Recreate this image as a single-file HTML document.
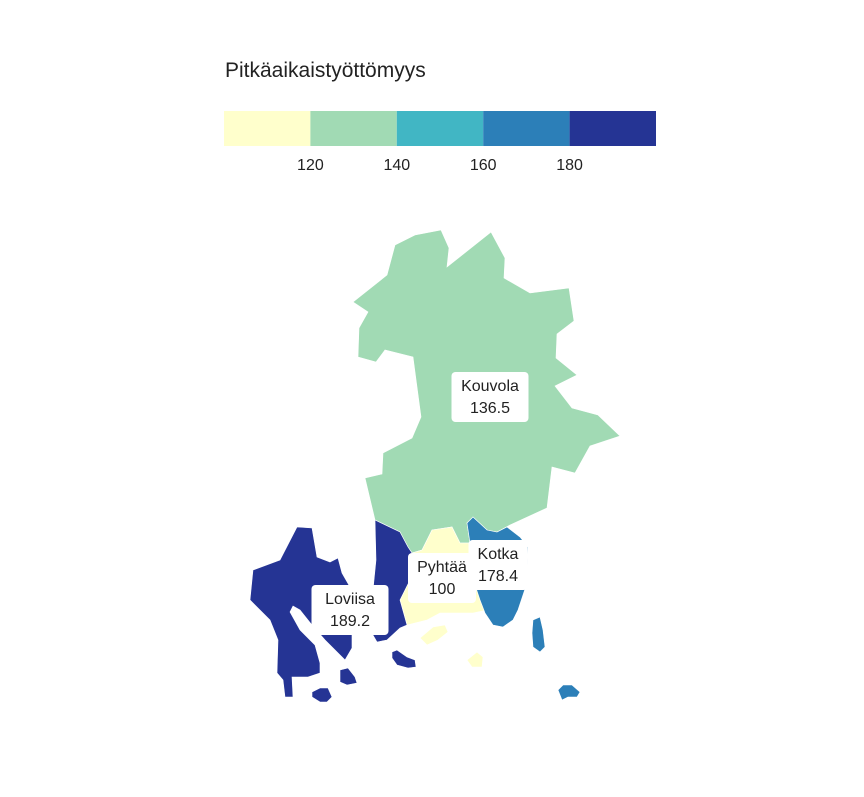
<!DOCTYPE html>
<html><head><meta charset="utf-8">
<style>
html,body{margin:0;padding:0;background:#fff;}
body{width:864px;height:792px;overflow:hidden;font-family:"Liberation Sans",sans-serif;}
svg text{font-family:"Liberation Sans",sans-serif;}
</style></head>
<body>
<svg id="map" width="864" height="792" viewBox="0 0 864 792" xmlns="http://www.w3.org/2000/svg">
<text x="225" y="77" font-size="21" fill="#222">Pitkäaikaistyöttömyys</text>
<g id="legend"></g>
<g id="regions"></g>
<g id="labels"></g>
</svg>
<script>
const regionNames = ["Kouvola", "Pyhtää", "Kotka", "Loviisa"];
const regionValues = [136.5, 100, 178.4, 189.2];
const thresholds = [120, 140, 160, 180];
const tickLabels = ["120", "140", "160", "180"];
const colors = ["#ffffcc", "#a1dab4", "#41b6c4", "#2c7fb8", "#253494"];

const shapes = {
  "Kouvola": [[[395,245],[415,235],[441,230],[449,248],[447,267],[491,232],[505,258],[504,278],[530,293],[569,288],[574,321],[557,334],[556,358],[577,375],[555,386],[572,408],[598,415],[620,436],[590,446],[575,473],[552,467],[547,508],[510,525],[497,532],[487,530],[473,517],[467,523],[470,543],[460,543],[452,527],[432,530],[422,550],[412,553],[408,547],[400,532],[375,520],[365,478],[382,474],[383,453],[412,438],[421,417],[413,357],[385,350],[376,362],[358,357],[359,328],[368,312],[353,302],[387,275]]],
  "Pyhtää": [[[432,530],[452,527],[460,543],[470,543],[470,570],[480,600],[487,610],[473,613],[460,613],[440,613],[427,620],[407,625],[400,600],[410,580],[412,553],[422,550]],
             [[420,638],[433,627],[445,625],[448,632],[438,640],[427,645]],
             [[467,660],[477,652],[483,657],[482,667],[472,667]]],
  "Kotka": [[[467,523],[473,517],[487,530],[497,532],[507,527],[520,537],[528,547],[527,583],[518,610],[513,620],[503,627],[493,625],[485,613],[480,600],[470,570],[470,543]],
            [[533,620],[540,617],[543,630],[545,647],[540,652],[533,647],[532,633]],
            [[558,690],[563,685],[572,685],[580,692],[577,697],[568,697],[562,700]]],
  "Loviisa": [[[297,527],[312,528],[317,557],[330,562],[338,558],[342,573],[350,587],[358,600],[360,620],[352,635],[352,648],[345,660],[335,650],[325,640],[312,625],[300,610],[293,606],[290,612],[300,630],[315,645],[320,663],[320,673],[308,677],[292,677],[293,697],[285,697],[283,680],[277,673],[278,640],[270,620],[250,600],[253,570],[280,560]],
              [[375,520],[400,532],[408,547],[412,553],[410,580],[400,600],[407,625],[400,628],[387,640],[377,642],[370,630],[372,600],[376,560]],
              [[392,652],[397,650],[407,657],[415,660],[416,667],[408,668],[397,665],[392,658]],
              [[340,670],[348,668],[355,677],[357,683],[347,685],[340,682]],
              [[312,692],[320,688],[328,688],[332,697],[327,702],[320,702],[312,697]]]
};
const labelPos = {"Kouvola":[490,397],"Pyhtää":[442,578],"Kotka":[498,565],"Loviisa":[350,610]};

const NS = "http://www.w3.org/2000/svg";
function colorFor(v){ let i=0; while(i<thresholds.length && v>=thresholds[i]) i++; return colors[i]; }

// legend
const lx0 = 224, lx1 = 656, ly = 111, lh = 35;
const segW = (lx1 - lx0) / colors.length;
const lg = document.getElementById("legend");
colors.forEach((c,i)=>{
  const r = document.createElementNS(NS,"rect");
  r.setAttribute("x", lx0 + i*segW); r.setAttribute("y", ly);
  r.setAttribute("width", segW); r.setAttribute("height", lh);
  r.setAttribute("fill", c);
  
  
  lg.appendChild(r);
});
tickLabels.forEach((t,i)=>{
  const tx = document.createElementNS(NS,"text");
  tx.setAttribute("x", lx0 + (i+1)*segW); tx.setAttribute("y", 170);
  tx.setAttribute("text-anchor","middle"); tx.setAttribute("font-size","16"); tx.setAttribute("fill","#222");
  tx.textContent = t;
  
  
  lg.appendChild(tx);
});

// regions
const rg = document.getElementById("regions");
regionNames.forEach((name,i)=>{
  const g = document.createElementNS(NS,"g");
  
  
  shapes[name].forEach(poly=>{
    const p = document.createElementNS(NS,"polygon");
    p.setAttribute("points", poly.map(q=>q.join(",")).join(" "));
    p.setAttribute("fill", colorFor(regionValues[i]));
    p.setAttribute("stroke", "#fff"); p.setAttribute("stroke-width","0.6");
    
    
    g.appendChild(p);
  });
  rg.appendChild(g);
});

// labels
const lb = document.getElementById("labels");
regionNames.forEach((name,i)=>{
  const [cx,cy] = labelPos[name];
  const val = String(regionValues[i]);
  const w = Math.max(name.length, val.length)*9 + 14;
  const g = document.createElementNS(NS,"g");
  
  
  const r = document.createElementNS(NS,"rect");
  r.setAttribute("x", cx - w/2); r.setAttribute("y", cy - 25);
  r.setAttribute("width", w); r.setAttribute("height", 50);
  r.setAttribute("rx", 4); r.setAttribute("fill", "#fff");
  g.appendChild(r);
  [name, val].forEach((t,k)=>{
    const tx = document.createElementNS(NS,"text");
    tx.setAttribute("x", cx); tx.setAttribute("y", cy - 6 + k*22);
    tx.setAttribute("text-anchor","middle"); tx.setAttribute("font-size","16"); tx.setAttribute("fill","#222");
    tx.textContent = t;
    g.appendChild(tx);
  });
  lb.appendChild(g);
});
</script>
</body></html>
